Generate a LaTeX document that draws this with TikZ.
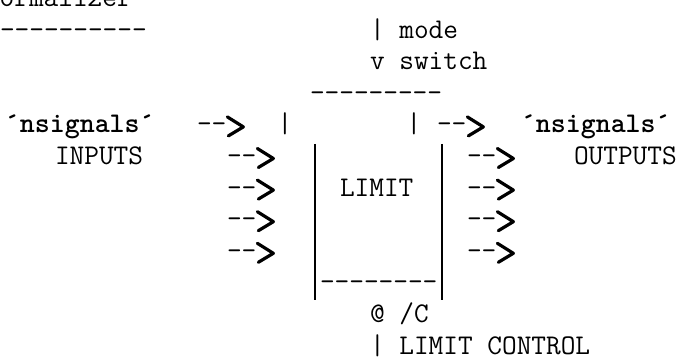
\documentclass[tikz,border=0pt]{standalone}
\usetikzlibrary{positioning}
\tikzset{
  typed/.style={font=\fontsize{28.5}{32}\selectfont\ttfamily,anchor=base west,
    inner sep=0pt,outer sep=0pt},
  typedbold/.style={typed,font=\fontsize{28.5}{32}\selectfont\ttfamily\bfseries},
  wall/.style={line width=1.3pt},
  inkhead/.style={line width=3.2pt,line cap=round,line join=round}
}
% hand inked head after the typed dashes of node #1
\newcommand{\inkhead}[1]{%
  \draw[inkhead] ([xshift=1pt,yshift=16pt]#1.base east)
    -- ([xshift=17pt,yshift=6pt]#1.base east)
    -- ([xshift=2pt,yshift=-3pt]#1.base east);}

\begin{document}
\begin{tikzpicture}[x=1pt,y=-1pt]
  \useasboundingbox (0,0) rectangle (689,361);
  \clip (0,0) rectangle (689,361);
  % heading, cut by the page edge
  \node[typed] (title) at (-15,6.5) {normalizer};
  \node[typed] (titlerule) at (0,38.1) {----------};
  % mode switch
  \node[typed] (mode) at (370,38.1) {| mode};
  \node[typed] (switch) at (370,69.7) {v switch};
  % LIMIT box
  \node[typed] (boxtop) at (310,101.3) {---------};
  \node[typed] (barL) at (277.5,132.9) {|};
  \node[typed] (barR) at (406.5,132.9) {|};
  \draw[wall] (315,144) -- (315,300);
  \draw[wall] (442,144) -- (442,300);
  \node[typed] (limit) at (340,196.1) {LIMIT};
  \node[typed] (boxbot) at (320,290.9) {--------};
  % control
  \node[typed] (ctrl) at (370,322.5) {@ /C};
  \node[typed] (ctrlname) at (370,354.1) {| LIMIT CONTROL};
  % inputs
  \node[typedbold] (sigin) at (5,132.9) {´nsignals´};
  \node[typed] (inputs) at (55,164.5) {INPUTS};
  \node[typed] (in0) at (197,132.9) {--};
  \inkhead{in0}
  \foreach \i/\y in {1/164.5,2/196.1,3/227.7,4/259.3}{
    \node[typed] (in\i) at (227,\y) {--};
    \inkhead{in\i}
  }
  % outputs
  \node[typedbold] (sigout) at (521,132.9) {´nsignals´};
  \node[typed] (outputs) at (574,164.5) {OUTPUTS};
  \node[typed] (out0) at (437,132.9) {--};
  \inkhead{out0}
  \foreach \i/\y in {1/164.5,2/196.1,3/227.7,4/259.3}{
    \node[typed] (out\i) at (467,\y) {--};
    \inkhead{out\i}
  }
\end{tikzpicture}
\end{document}
